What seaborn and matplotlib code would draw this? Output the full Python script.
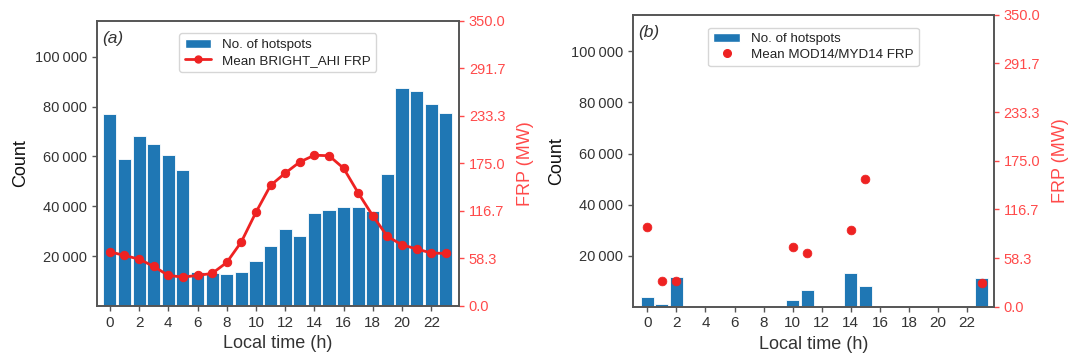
import numpy as np
import matplotlib
matplotlib.use("Agg")
import matplotlib.pyplot as plt
import seaborn as sns
from matplotlib.patches import Patch
from matplotlib.lines import Line2D
from matplotlib.ticker import FuncFormatter

# ------------------------------------------------------------------
# Data
# ------------------------------------------------------------------
hours = np.arange(24)

ahi_count = [77000, 59000, 68100, 64900, 60400, 54500, 13600, 13300,
             12800, 13600, 18100, 24100, 30900, 28100, 37200, 38500,
             39600, 39600, 38100, 53100, 87500, 86300, 81100, 77500]
ahi_frp = [66.5, 62.0, 57.5, 48.6, 37.5, 35.5, 37.5, 40.0,
           53.4, 78.7, 115.0, 148.0, 163.0, 176.7, 185.0, 184.4,
           169.0, 138.7, 110.6, 85.3, 75.0, 70.0, 65.0, 64.5]

modis_count = [3950, 1200, 11600, 0, 0, 0, 0, 0,
               0, 0, 2640, 6600, 0, 0, 13200, 8050,
               0, 0, 0, 0, 0, 0, 0, 11100]
modis_frp = [95.0, 30.4, 30.4, np.nan, np.nan, np.nan, np.nan, np.nan,
             np.nan, np.nan, 71.5, 64.3, np.nan, np.nan, 92.3, 153.0,
             np.nan, np.nan, np.nan, np.nan, np.nan, np.nan, np.nan, 28.0]

count_ticks = [20000, 40000, 60000, 80000, 100000]
frp_ticks = np.linspace(0, 350, 7)

BLUE = "#1f77b4"
RED = "#ee2222"
RED_TXT = "#ff4a4a"
TXT = "#333333"

sns.set_theme(style="ticks")
plt.rcParams['font.family'] = ['Liberation Sans', 'DejaVu Sans']
plt.rcParams['axes.edgecolor'] = '#555555'
plt.rcParams['axes.linewidth'] = 1.2
for k in ('xtick', 'ytick'):
    plt.rcParams[f'{k}.major.size'] = 3.5
    plt.rcParams[f'{k}.major.width'] = 1.0


def draw_panel(ax, counts, frp, tag, frp_label, as_line, xlim):
    sns.barplot(x=hours, y=counts, color=BLUE, width=0.9, saturation=1,
                edgecolor='white', linewidth=0.6, ax=ax)
    ax.set_xlim(*xlim)
    ax.set_ylim(0, 114400)
    ax.set_xticks(range(0, 24, 2))
    ax.set_xticklabels([str(h) for h in range(0, 24, 2)])
    ax.set_yticks(count_ticks)
    ax.yaxis.set_major_formatter(FuncFormatter(lambda v, p: f"{v:,.0f}".replace(",", "\u2009")))
    ax.tick_params(labelsize=10.5, colors='#555555', labelcolor=TXT)
    ax.tick_params(axis='x', labelsize=11)
    ax.set_xlabel("Local time (h)", fontsize=13, color=TXT)
    ax.set_ylabel("Count", fontsize=13, color='#111111', labelpad=4)
    ax.text(0.016, 0.965, "(" + tag + ")", transform=ax.transAxes, fontsize=12.5,
            va='top', ha='left', color=TXT, style='italic')

    ax2 = ax.twinx()
    if as_line:
        sns.lineplot(x=hours, y=frp, color=RED, linewidth=2, marker='o',
                     markersize=6, markeredgecolor=RED, legend=False, ax=ax2)
        frp_handle = Line2D([], [], color=RED, linewidth=2, marker='o', markersize=5)
    else:
        sns.scatterplot(x=hours, y=frp, color=RED, s=40, edgecolor=RED,
                        legend=False, ax=ax2)
        frp_handle = Line2D([], [], color=RED, linestyle='none', marker='o', markersize=5.5)
    ax2.set_ylim(0, 350)
    ax2.set_yticks(frp_ticks)
    ax2.set_yticklabels([f"{t:.1f}" for t in frp_ticks])
    ax2.tick_params(axis='y', colors=RED_TXT, labelsize=10.5)
    ax2.set_ylabel("FRP (MW)", fontsize=13, color=RED_TXT, labelpad=8)

    handles = [Patch(facecolor=BLUE, label="No. of hotspots"), frp_handle]
    labels = ["No. of hotspots", frp_label]
    leg = ax2.legend(handles, labels, loc='upper center', bbox_to_anchor=(0.5, 0.956),
                     borderaxespad=0, fontsize=9.6, frameon=True, handlelength=2.0,
                     borderpad=0.4, labelspacing=0.25, fancybox=True)
    leg.get_frame().set_edgecolor('#cccccc')
    for t in leg.get_texts():
        t.set_color('#222222')


fig = plt.figure(figsize=(10.71, 3.62), dpi=100)
ax_a = fig.add_axes([0.0903, 0.1547, 0.3383, 0.788])
ax_b = fig.add_axes([0.5908, 0.1528, 0.3373, 0.8066])

draw_panel(ax_a, ahi_count, ahi_frp, "a", "Mean BRIGHT_AHI FRP", True, (-0.9, 23.9))
draw_panel(ax_b, modis_count, modis_frp, "b", "Mean MOD14/MYD14 FRP", False, (-1.0, 23.85))

fig.savefig("out.png", dpi=100)
